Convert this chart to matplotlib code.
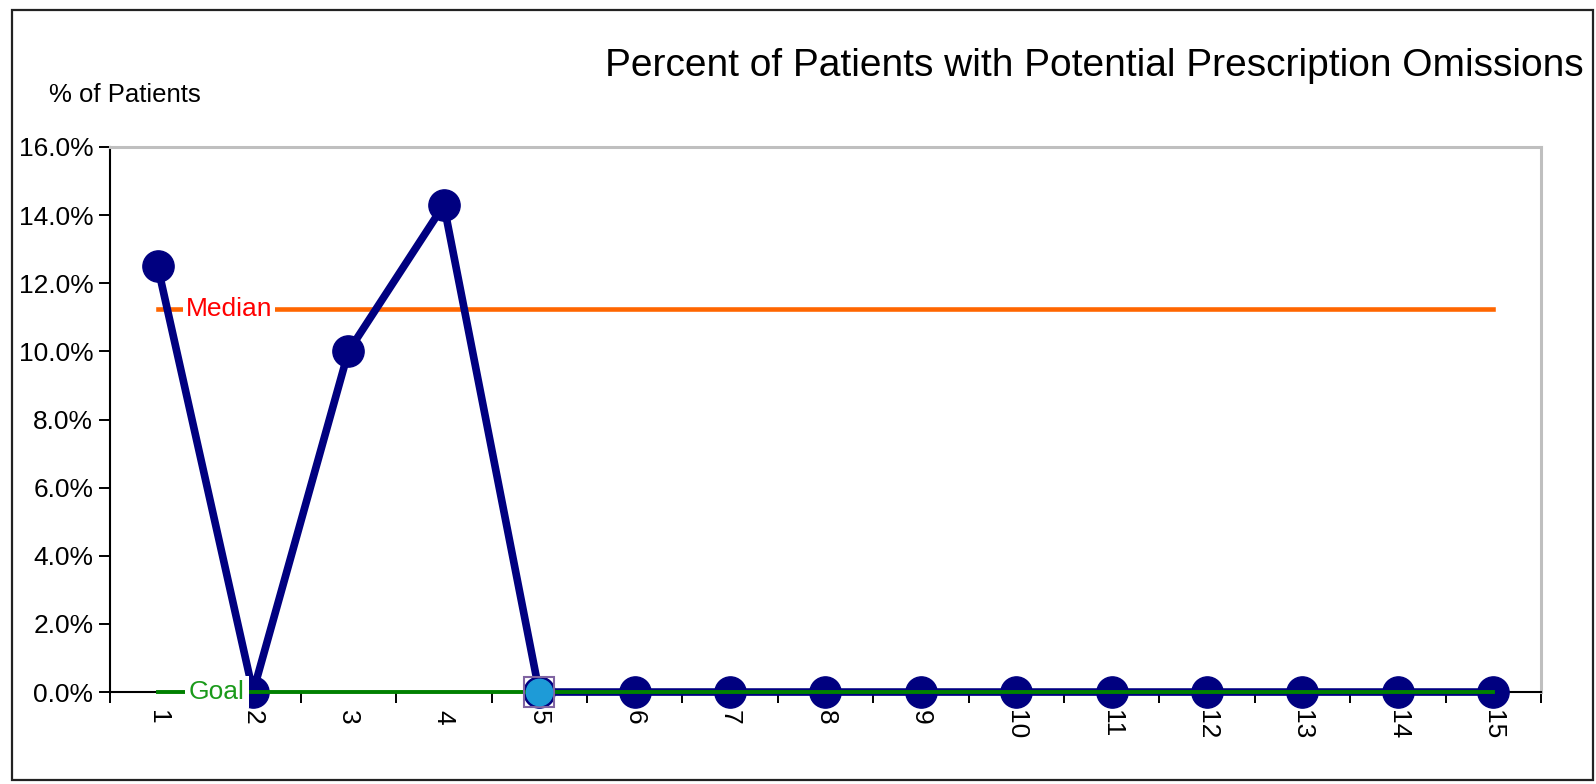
import numpy as np
import matplotlib
matplotlib.use("Agg")
import matplotlib.pyplot as plt
from matplotlib.patches import Rectangle

plt.rcParams['font.family'] = ['Liberation Sans', 'DejaVu Sans']

# Data
months = list(range(1, 16))
pct = [12.5, 0.0, 10.0, 14.3, 0.0, 0.0, 0.0, 0.0, 0.0, 0.0, 0.0, 0.0, 0.0, 0.0, 0.0]
median_val = 11.25
goal_val = 0.0
highlight = 5          # month flagged with a special marker
yticks = [0, 2, 4, 6, 8, 10, 12, 14, 16]

navy = '#000080'
orange = '#FF6600'
green = '#008000'

fig = plt.figure(figsize=(15.96, 7.84), dpi=100)
ax = fig.add_axes([0.0689, 0.1173, 0.8966, 0.6952])

# Outer frame around the whole chart
fig.patches.append(Rectangle((0.0075, 0.005), 0.9905, 0.982, transform=fig.transFigure,
                             fill=False, edgecolor='#222222', lw=1.6))

# Median and goal reference lines
ax.plot([months[0], months[-1]], [median_val, median_val], color=orange, lw=3.3, zorder=2)
ax.plot(months, pct, color=navy, lw=5.5, marker='o', ms=22.5, mfc=navy, mec=navy,
        zorder=3, clip_on=False)
ax.plot([months[0], months[-1]], [goal_val, goal_val], color=green, lw=2.8, zorder=4,
        clip_on=False)

# Highlighted point
i = months.index(highlight)
ax.plot(months[i], pct[i], marker='s', ms=21, mfc='none', mec='#8064A2', mew=1.5,
        zorder=5, clip_on=False)
ax.plot(months[i], pct[i], marker='o', ms=19, mfc='#1E9BD7', mec='#1E9BD7',
        zorder=6, clip_on=False)

# Line labels sitting on the lines
ax.text(1.75, median_val, 'Median', color='#FF0000', fontsize=19, ha='center', va='center',
        bbox=dict(facecolor='white', edgecolor='none', pad=2), zorder=7)
ax.text(1.62, goal_val, 'Goal', color='#1A9A1A', fontsize=19, ha='center', va='center',
        bbox=dict(facecolor='white', edgecolor='none', pad=3), zorder=7)

# Axes
ax.set_xlim(0.5, 15.5)
ax.set_ylim(0, 16)
ax.set_yticks(yticks)
ax.set_yticklabels([f'{v:.1f}%' for v in yticks], fontsize=19)
ax.set_xticks(np.arange(0.5, 16, 1))
ax.set_xticklabels([])
ax.set_xticks(months, minor=True)
ax.set_xticklabels([str(m) for m in months], minor=True, rotation=-90, fontsize=19)
ax.tick_params(axis='x', which='minor', length=0, pad=13)
ax.tick_params(axis='both', which='major', length=8, width=1.4, direction='out')
ax.tick_params(axis='y', pad=4)

for s in ['left', 'bottom']:
    ax.spines[s].set_color('black')
    ax.spines[s].set_linewidth(1.5)
for s in ['top', 'right']:
    ax.spines[s].set_color('#BFBFBF')
    ax.spines[s].set_linewidth(2.2)

fig.text(0.992, 0.916, 'Percent of Patients with Potential Prescription Omissions',
         ha='right', va='center', fontsize=28)
fig.text(0.031, 0.879, '% of Patients', ha='left', va='center', fontsize=18.5)

fig.savefig('out.png', dpi=100)
